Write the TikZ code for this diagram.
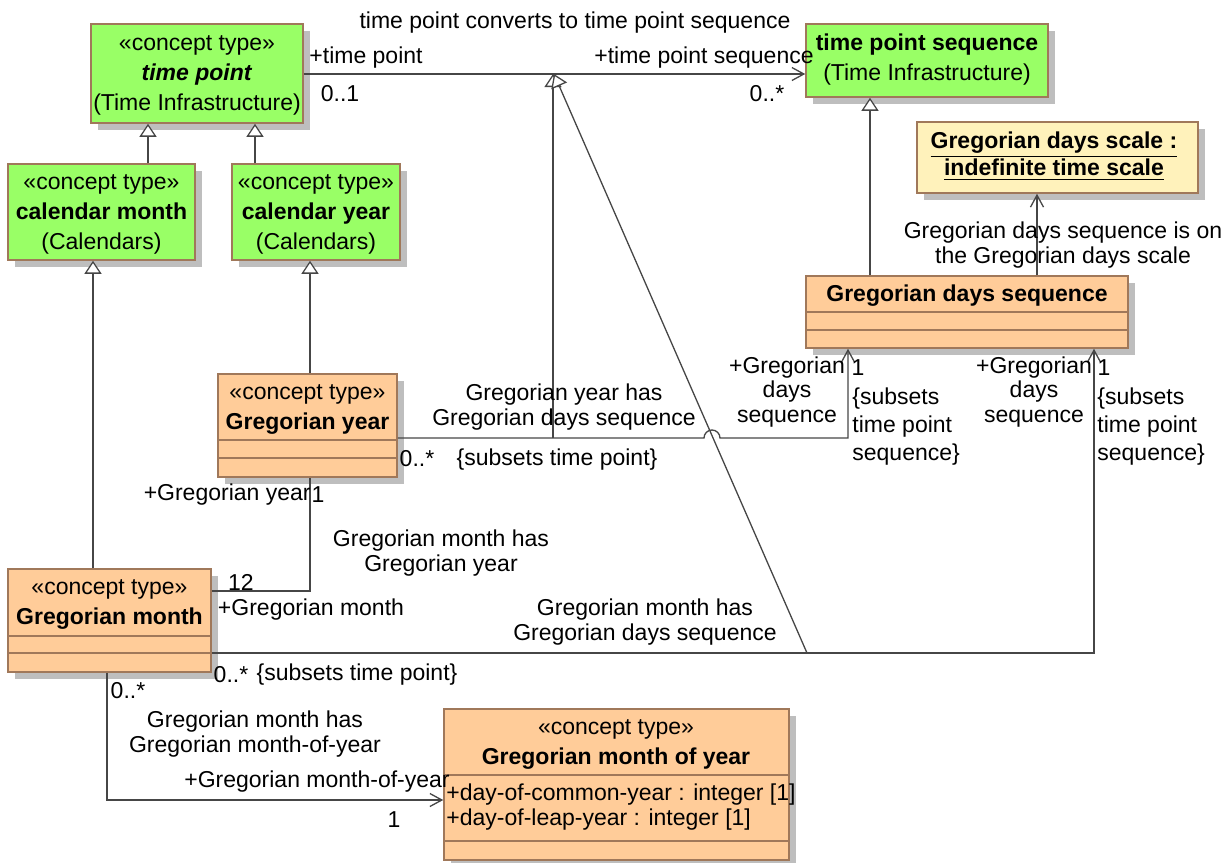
\documentclass[tikz,border=0pt]{standalone}
\usepackage{fontspec}
\setmainfont{Liberation Sans}
\usetikzlibrary{arrows.meta,fit,shadows}
\definecolor{umlgreen}{RGB}{153,255,102}
\definecolor{umlorange}{RGB}{255,204,153}
\definecolor{umlyellow}{RGB}{255,242,187}
\definecolor{umlborder}{RGB}{160,120,90}
\definecolor{umlline}{RGB}{70,70,70}
\definecolor{umlshadow}{RGB}{190,190,190}
\begin{document}
\begin{tikzpicture}[x=0.5pt,y=-0.5pt,
  font=\fontsize{11.5}{15}\selectfont,
  cls/.style={draw=umlborder, line width=0.75pt, inner sep=0pt,
    drop shadow={shadow xshift=3.5pt, shadow yshift=-3.5pt, fill=umlshadow, opacity=1}},
  greencls/.style={cls, fill=umlgreen},
  orangecls/.style={cls, fill=umlorange},
  yellowcls/.style={cls, fill=umlyellow},
  boxtext/.style={align=center, inner sep=0pt, yshift=-1pt, font=\fontsize{11.5}{15}\selectfont},
  lbl/.style={inner sep=0pt, align=center, yshift=-1pt, font=\fontsize{11.5}{12.3}\selectfont},
  lbll/.style={inner sep=0pt, align=left, anchor=west, yshift=-1pt, font=\fontsize{11.5}{14}\selectfont},
  assoc/.style={draw=umlline, line width=0.65pt},
  navarrow/.style={assoc, -{Straight Barb[length=6pt,width=6.5pt]}},
  genarrow/.style={assoc, -{Triangle[open,length=6.5pt,width=8.5pt,fill=white]}},
  compline/.style={draw=umlborder, line width=0.75pt}
]
\useasboundingbox (0,0) rectangle (1228,863);

% classes
\node[greencls, fit={(91,24) (303,123)}] (tp) {};
\node[boxtext] (tpt) at (tp.center) {«concept type»\\\textbf{\textit{time point}}\\(Time Infrastructure)};

\node[greencls, fit={(8,164) (195,260)}] (cm) {};
\node[boxtext] (cmt) at (cm.center) {«concept type»\\\textbf{calendar month}\\(Calendars)};

\node[greencls, fit={(232,164) (400,260)}] (cy) {};
\node[boxtext] (cyt) at (cy.center) {«concept type»\\\textbf{calendar year}\\(Calendars)};

\node[greencls, fit={(806,24) (1048,97)}] (tps) {};
\node[boxtext] (tpst) at (927,58) {\textbf{time point sequence}\\(Time Infrastructure)};

\node[yellowcls, fit={(917,122) (1198,193)}] (scale) {};
\node[boxtext, font=\fontsize{11.5}{12.5}\selectfont] (scalet) at (1054,154) {\underline{\textbf{Gregorian days scale :}}\\\underline{\textbf{indefinite time scale}}};

\node[orangecls, fit={(806,276) (1128,348)}] (gds) {};
\node[boxtext] (gdst) at (967,294) {\textbf{Gregorian days sequence}};
\draw[compline] (gds.west |- 0,312) -- (gds.east |- 0,312);
\draw[compline] (gds.west |- 0,330) -- (gds.east |- 0,330);

\node[orangecls, fit={(218,374) (397,477)}] (gy) {};
\node[boxtext] (gyt) at (307.5,407) {«concept type»\\\textbf{Gregorian year}};
\draw[compline] (gy.west |- 0,440) -- (gy.east |- 0,440);
\draw[compline] (gy.west |- 0,458) -- (gy.east |- 0,458);

\node[orangecls, fit={(8,569) (211,672)}] (gm) {};
\node[boxtext] (gmt) at (109.5,602) {«concept type»\\\textbf{Gregorian month}};
\draw[compline] (gm.west |- 0,636) -- (gm.east |- 0,636);
\draw[compline] (gm.west |- 0,653) -- (gm.east |- 0,653);

\node[orangecls, fit={(444,709) (789,860)}] (gmoy) {};
\node[boxtext] (gmoyt) at (616,742) {«concept type»\\\textbf{Gregorian month of year}};
\draw[compline] (gmoy.west |- 0,775) -- (gmoy.east |- 0,775);
\draw[compline] (gmoy.west |- 0,841) -- (gmoy.east |- 0,841);
\node[lbll, font=\fontsize{11.5}{12.3}\selectfont] (attrs) at (446,805) {+day-of-common-year : integer [1]\\+day-of-leap-year : integer [1]};

% generalizations
\draw[genarrow] (148,0 |- cm.north) -- (148,0 |- tp.south);
\draw[genarrow] (255,0 |- cy.north) -- (255,0 |- tp.south);
\draw[genarrow] (93,0 |- gm.north) -- (93,0 |- cm.south);
\draw[genarrow] (310,0 |- gy.north) -- (310,0 |- cy.south);
\draw[genarrow] (870,0 |- gds.north) -- (870,0 |- tps.south);

% time point converts to time point sequence
\draw[navarrow] (tp.east |- 0,74) -- (tps.west |- 0,74);
\coordinate (convmid) at (554,74);
\node[lbl] (convname) at (575,21) {time point converts to time point sequence};
\node[lbl] (convr1) at (366,56) {+time point};
\node[lbl] (convm1) at (340,92) {0..1};
\node[lbl] (convr2) at (704,56) {+time point sequence};
\node[lbl] (convm2) at (767,92) {0..*};

% Gregorian days sequence is on the Gregorian days scale
\draw[navarrow] (1037,0 |- gds.north) -- (1037,0 |- scale.south);
\node[lbl] (scalename) at (1063,243) {Gregorian days sequence is on\\the Gregorian days scale};

% Gregorian year has Gregorian days sequence
\draw[navarrow] (gy.east |- 0,438) -- (704,438) arc[start angle=180, end angle=0, radius=4pt] -- (848,438) -- (848,0 |- gds.south);
\coordinate (gyx) at (553,438);
\draw[genarrow] (gyx) -- (gyx |- convmid);
\node[lbl] (gyname) at (564,405) {Gregorian year has\\Gregorian days sequence};
\node[lbl] (gym1) at (417,457) {0..*};
\node[lbl] (gyc1) at (557,458) {\{subsets time point\}};
\node[lbl] (gyr2) at (787,390) {+Gregorian\\days\\sequence};
\node[lbl] (gym2) at (858,366) {1};
\node[lbll] (gyc2) at (852,425) {\{subsets\\time point\\sequence\}};

% Gregorian month has Gregorian year
\draw[assoc] (gm.east |- 0,591) -| (310,0 |- gy.south);
\node[lbl, anchor=east] (gmyr1) at (311,493) {+Gregorian year};
\node[lbl] (gmym1) at (318,493) {1};
\node[lbl] (gmym2) at (241,580) {12};
\node[lbl] (gmyr2) at (311,608) {+Gregorian month};
\node[lbl] (gmyname) at (441,551) {Gregorian month has\\Gregorian year};

% Gregorian month has Gregorian days sequence
\draw[navarrow] (gm.east |- 0,653) -| (1094,0 |- gds.south);
\coordinate (gmx) at (807,653);
\draw[genarrow] (gmx) -- (convmid);
\node[lbl] (gmdname) at (645,620) {Gregorian month has\\Gregorian days sequence};
\node[lbl] (gmdm1) at (231,673) {0..*};
\node[lbl] (gmdc1) at (357,673) {\{subsets time point\}};
\node[lbl] (gmdr2) at (1034,390) {+Gregorian\\days\\sequence};
\node[lbl] (gmdm2) at (1104,366) {1};
\node[lbll] (gmdc2) at (1097,425) {\{subsets\\time point\\sequence\}};

% Gregorian month has Gregorian month-of-year
\draw[navarrow] (107,0 |- gm.south) |- (gmoy.west |- 0,800);
\node[lbl] (gmom1) at (128,689) {0..*};
\node[lbl] (gmoname) at (255,732) {Gregorian month has\\Gregorian month-of-year};
\node[lbl] (gmor2) at (317,780) {+Gregorian month-of-year};
\node[lbl] (gmom2) at (394,818) {1};
\end{tikzpicture}
\end{document}
